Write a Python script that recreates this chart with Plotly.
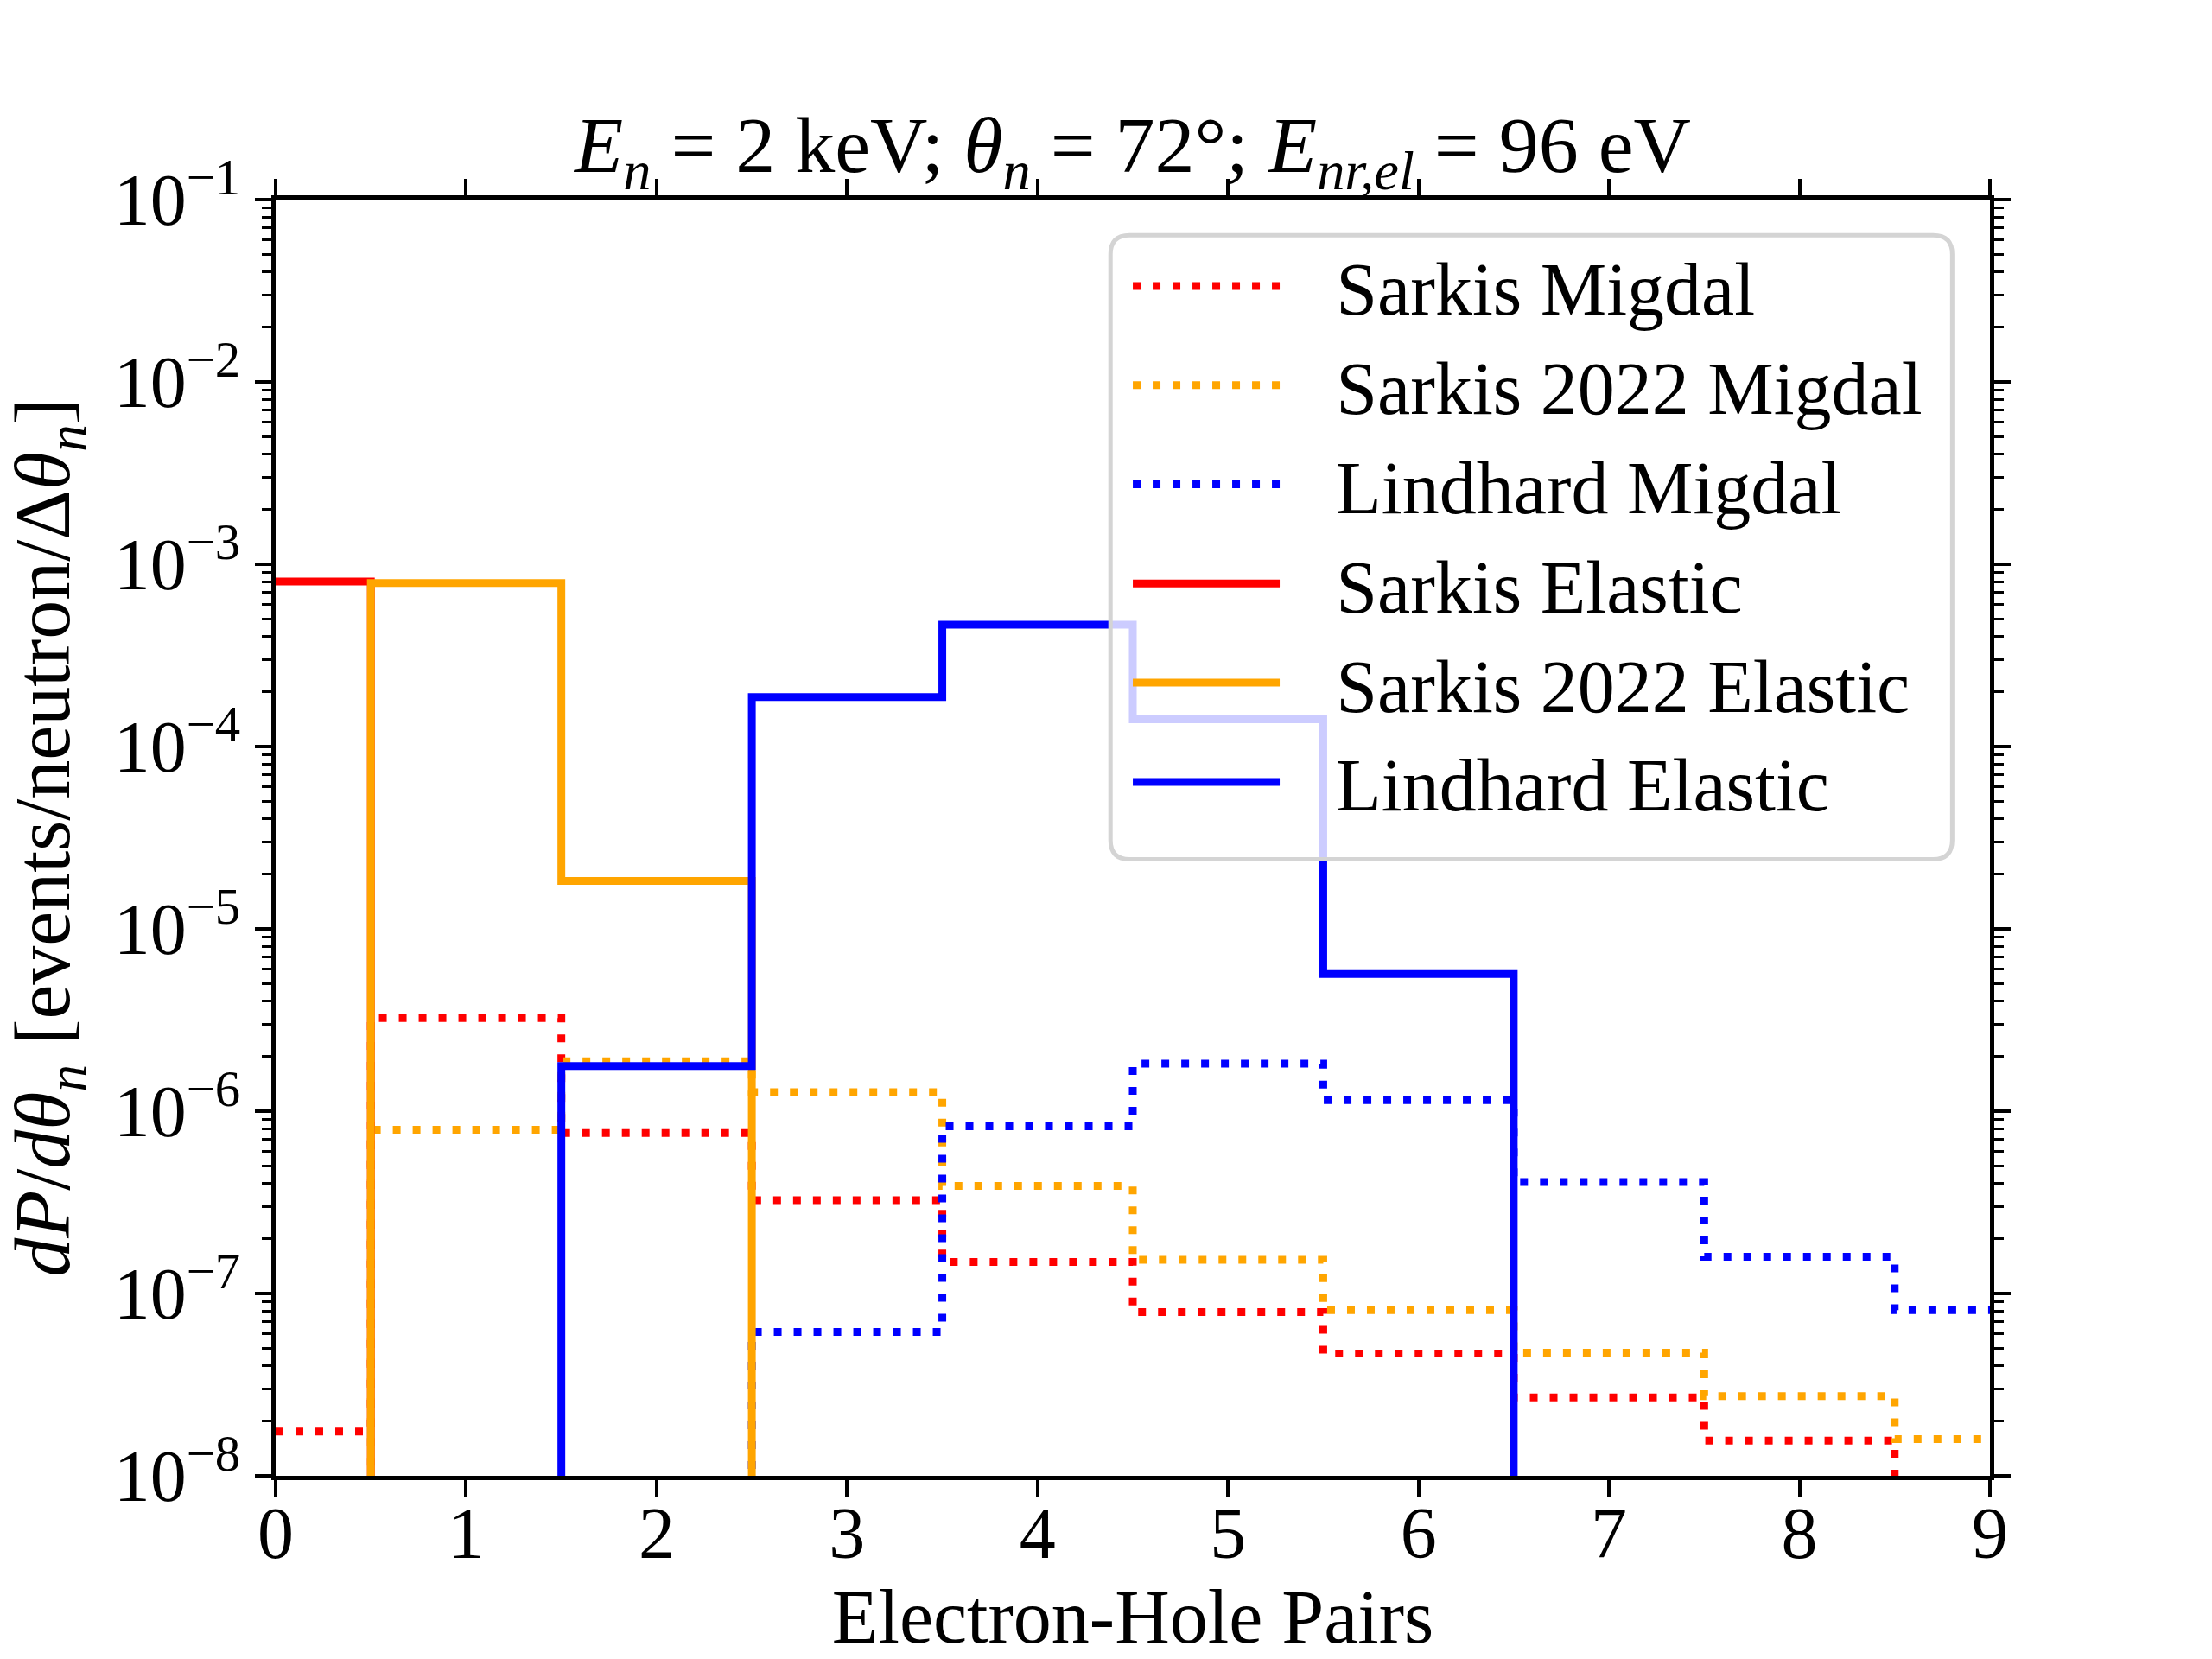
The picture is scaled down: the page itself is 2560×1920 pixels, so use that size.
import numpy as np
import plotly.graph_objects as go

# Bin centres: number of electron-hole pairs
pairs = [0, 1, 2, 3, 4, 5, 6, 7, 8, 9]

# Values; 1e-12 marks bins that fall below the plotted range
sarkis_migdal = [1.75e-8, 3.24e-6, 7.6e-7, 3.25e-7, 1.49e-7, 7.9e-8, 4.68e-8, 2.69e-8, 1.56e-8, 1e-12]
sarkis2022_migdal = [1e-12, 7.9e-7, 1.88e-6, 1.27e-6, 3.89e-7, 1.53e-7, 8.1e-8, 4.74e-8, 2.74e-8, 1.59e-8]
lindhard_migdal = [1e-12, 1e-12, 1e-12, 6.15e-8, 8.26e-7, 1.82e-6, 1.15e-6, 4.09e-7, 1.59e-7, 8.1e-8]
sarkis_elastic = [8.03e-4, 1e-12, 1e-12, 1e-12, 1e-12, 1e-12, 1e-12, 1e-12, 1e-12, 1e-12]
sarkis2022_elastic = [1e-12, 7.88e-4, 1.83e-5, 1e-12, 1e-12, 1e-12, 1e-12, 1e-12, 1e-12, 1e-12]
lindhard_elastic = [1e-12, 1e-12, 1.77e-6, 1.87e-4, 4.66e-4, 1.41e-4, 5.66e-6, 1e-12, 1e-12, 1e-12]

y_tickvals = [1e-8, 1e-7, 1e-6, 1e-5, 1e-4, 1e-3, 1e-2, 1e-1]
y_ticktext = ["10<sup>−8</sup>", "10<sup>−7</sup>", "10<sup>−6</sup>", "10<sup>−5</sup>",
              "10<sup>−4</sup>", "10<sup>−3</sup>", "10<sup>−2</sup>", "10<sup>−1</sup>"]
x_tickvals = [0, 1, 2, 3, 4, 5, 6, 7, 8, 9]

FONT = "Liberation Serif"
LW = 9
DOT = "9px,14px"
GAP = "\u2002\u2009"  # space between legend line and label

series = [
    ("Sarkis Migdal", sarkis_migdal, "red", DOT),
    ("Sarkis 2022 Migdal", sarkis2022_migdal, "orange", DOT),
    ("Lindhard Migdal", lindhard_migdal, "blue", DOT),
    ("Sarkis Elastic", sarkis_elastic, "red", "solid"),
    ("Sarkis 2022 Elastic", sarkis2022_elastic, "orange", "solid"),
    ("Lindhard Elastic", lindhard_elastic, "blue", "solid"),
]

fig = go.Figure()
for name, vals, color, dash in series:
    fig.add_trace(go.Scatter(
        x=pairs, y=vals, name=GAP + name, mode="lines", line_shape="hvh",
        line=dict(color=color, width=LW, dash=dash),
    ))

# minor log ticks 2..9 per decade
minor_vals = [m * 10.0 ** e for e in range(-8, -1) for m in range(2, 10)]

axis_common = dict(
    showline=True, linecolor="black", linewidth=5, mirror="allticks",
    ticks="outside", tickcolor="black", tickwidth=4,
    showgrid=False, zeroline=False, automargin=False,
    tickfont=dict(family=FONT, size=84, color="black"),
)

fig.update_xaxes(
    range=[0, 9], tickvals=x_tickvals, ticklen=19, ticklabelstandoff=-30,
    title=dict(text="Electron-Hole Pairs", font=dict(family=FONT, size=88, color="black"), standoff=30),
    **axis_common,
)
fig.update_yaxes(
    type="log", range=[-8, -1], tickvals=y_tickvals, ticktext=y_ticktext, ticklen=19,
    minor=dict(tickvals=minor_vals, ticks="outside", ticklen=11, tickwidth=3, tickcolor="black", showgrid=False),
    title=dict(text="<i>dP</i>/<i>dθ</i><sub><i>n</i></sub> [events/neutron/Δ<i>θ</i><sub><i>n</i></sub>]",
               font=dict(family=FONT, size=90, color="black"), standoff=30),
    **axis_common,
)

# legend frame: rounded, semi-transparent box (pixel sizes of the plot area)
PW, PH = 2560 - 319 - 257, 1920 - 231 - 212
bx0, bx1, by0, by1 = 0.487, 0.978, 0.483, 0.972
rx, ry = 22 / PW, 22 / PH
box_path = (
    f"M{bx0 + rx},{by0} L{bx1 - rx},{by0} Q{bx1},{by0} {bx1},{by0 + ry} "
    f"L{bx1},{by1 - ry} Q{bx1},{by1} {bx1 - rx},{by1} "
    f"L{bx0 + rx},{by1} Q{bx0},{by1} {bx0},{by1 - ry} "
    f"L{bx0},{by0 + ry} Q{bx0},{by0} {bx0 + rx},{by0} Z"
)
fig.add_shape(type="path", path=box_path, xref="paper", yref="paper", layer="above",
              fillcolor="rgba(255,255,255,0.8)", line=dict(color="#d4d4d4", width=5))

fig.update_layout(
    template="none",
    width=2560, height=1920,
    margin=dict(l=319, r=257, t=231, b=212),
    paper_bgcolor="white", plot_bgcolor="white",
    font=dict(family=FONT, size=84, color="black"),
    title=dict(
        text="<i>E</i><sub><i>n</i></sub> = 2 keV; <i>θ</i><sub><i>n</i></sub> = 72°; "
             "<i>E</i><sub><i>nr,el</i></sub> = 96 eV",
        x=0.5, xref="paper", xanchor="center", y=0.913, yanchor="middle",
        font=dict(family=FONT, size=92, color="black"),
    ),
    legend=dict(
        x=0.4975, y=0.9746, xanchor="left", yanchor="top",
        bgcolor="rgba(0,0,0,0)", borderwidth=0,
        font=dict(family=FONT, size=86, color="black"),
        itemwidth=170,
    ),
    showlegend=True,
)

# drop the browser's default 8px page margin so the figure sits at the window origin
fig.write_html("out.html", config={"displayModeBar": False},
               post_script="document.body.style.margin='0';")
